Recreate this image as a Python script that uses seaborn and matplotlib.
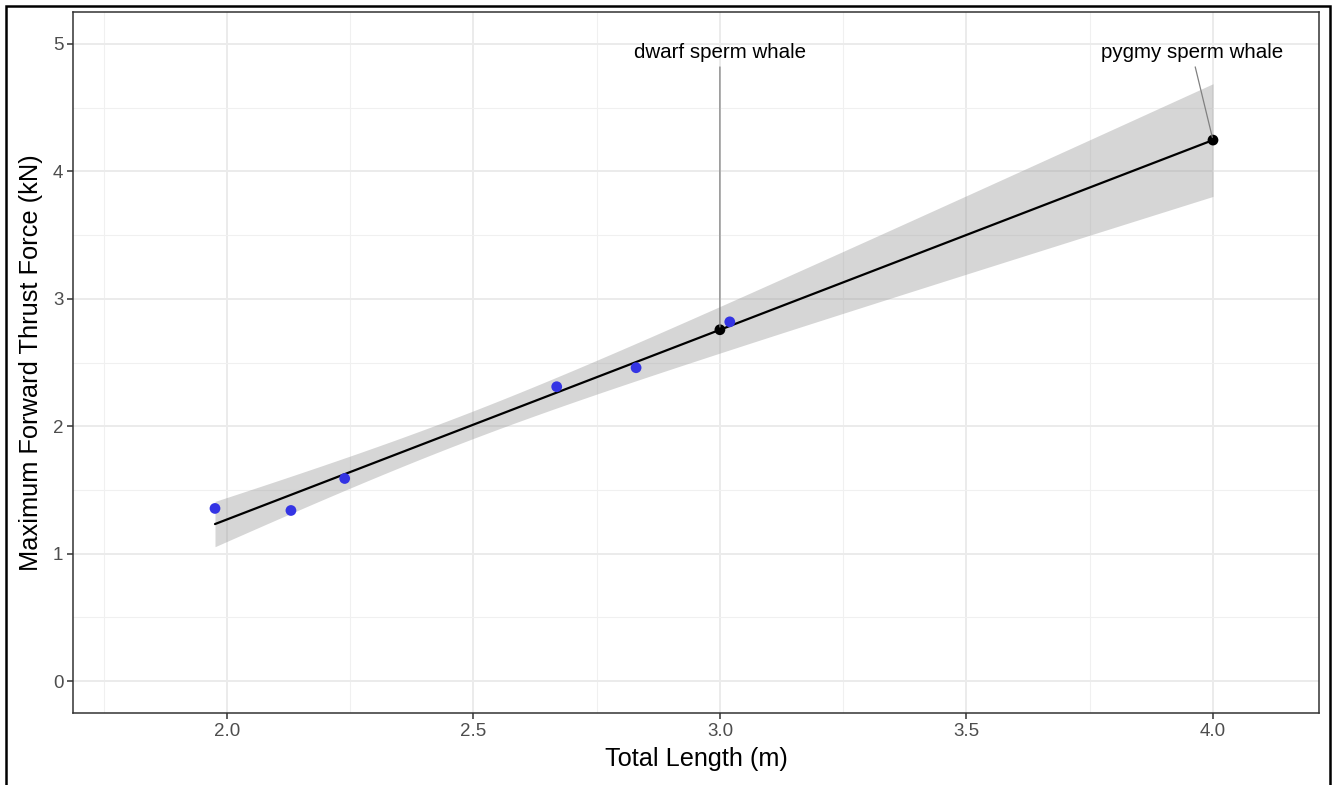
import numpy as np
import pandas as pd
import matplotlib
matplotlib.use("Agg")
import matplotlib.pyplot as plt
from matplotlib.patches import Rectangle
import seaborn as sns

# ---- data ----
total_length = [1.976, 2.130, 2.239, 2.669, 2.830, 3.020]
thrust_force = [1.355, 1.339, 1.590, 2.310, 2.459, 2.819]

pred_species = ["dwarf sperm whale", "pygmy sperm whale"]
pred_length = [3.0, 4.0]
pred_force = [2.757, 4.245]
label_x = [3.0, 3.957]
label_y = [4.93, 4.93]

x_ticks = [2.0, 2.5, 3.0, 3.5, 4.0]
y_ticks = [0, 1, 2, 3, 4, 5]

T_CRIT = 2.776  # t(0.975, df=4)

sns.set_theme(style="white")
plt.rcParams["font.family"] = ["Liberation Sans", "DejaVu Sans"]

df = pd.DataFrame({"x": total_length, "y": thrust_force})

# linear fit + analytic 95% CI
x = np.asarray(total_length)
y = np.asarray(thrust_force)
n = len(x)
slope, intercept = np.polyfit(x, y, 1)
resid = y - (intercept + slope * x)
s = np.sqrt(np.sum(resid ** 2) / (n - 2))
sxx = np.sum((x - x.mean()) ** 2)
grid = np.linspace(x.min(), max(pred_length), 200)
fit = intercept + slope * grid
se = s * np.sqrt(1 / n + (grid - x.mean()) ** 2 / sxx)
fit_df = pd.DataFrame({"x": grid, "y": fit})

fig = plt.figure(figsize=(13.33, 7.85), dpi=100)
ax = fig.add_axes([73 / 1333, 1 - 713 / 785, (1319 - 73) / 1333, (713 - 12) / 785])

ax.set_xlim(1.688, 4.215)
ax.set_ylim(-0.25, 5.25)

ax.set_xticks(x_ticks)
ax.set_xticklabels([f"{v:.1f}" for v in x_ticks])
ax.set_yticks(y_ticks)
ax.set_yticklabels([str(v) for v in y_ticks])
ax.set_xticks([1.75, 2.25, 2.75, 3.25, 3.75], minor=True)
ax.set_yticks([0.5, 1.5, 2.5, 3.5, 4.5], minor=True)

ax.set_axisbelow(True)
ax.grid(which="major", color="#ebebeb", linewidth=1.4)
ax.grid(which="minor", color="#f0f0f0", linewidth=0.8)

ax.fill_between(grid, fit - T_CRIT * se, fit + T_CRIT * se,
                color="#999999", alpha=0.4, linewidth=0, zorder=2)
sns.lineplot(data=fit_df, x="x", y="y", color="black", linewidth=1.6,
             ax=ax, zorder=3)
sns.scatterplot(data=df, x="x", y="y", color="#3434e4", s=60,
                edgecolor="none", ax=ax, zorder=4)
sns.scatterplot(x=pred_length, y=pred_force, color="black", s=60,
                edgecolor="none", ax=ax, zorder=5)

for name, px, py, lx, ly in zip(pred_species, pred_length, pred_force, label_x, label_y):
    ax.annotate(name, xy=(px, py), xytext=(lx, ly), ha="center", va="center",
                fontsize=14.8, color="black",
                arrowprops=dict(arrowstyle="-", color="#808080", lw=0.9,
                                shrinkA=1, shrinkB=2),
                zorder=6)

ax.set_xlabel("Total Length (m)", fontsize=18.2, color="black", labelpad=5)
ax.set_ylabel("Maximum Forward Thrust Force (kN)", fontsize=18.3, color="black", labelpad=7)

ax.tick_params(axis="both", which="major", length=4, width=1.1, color="#333333",
               labelsize=13.5, labelcolor="#4d4d4d", direction="out",
               bottom=True, left=True, pad=3)
ax.tick_params(axis="both", which="minor", length=0)
for sp in ax.spines.values():
    sp.set_visible(True)
    sp.set_color("#333333")
    sp.set_linewidth(1.1)

# outer screenshot frame
fig.patches.append(Rectangle((6 / 1333, -0.1), (1330 - 6) / 1333, 1.1 - 6 / 785,
                             transform=fig.transFigure, fill=False,
                             edgecolor="black", linewidth=1.8))

fig.savefig("out.png", dpi=100)
